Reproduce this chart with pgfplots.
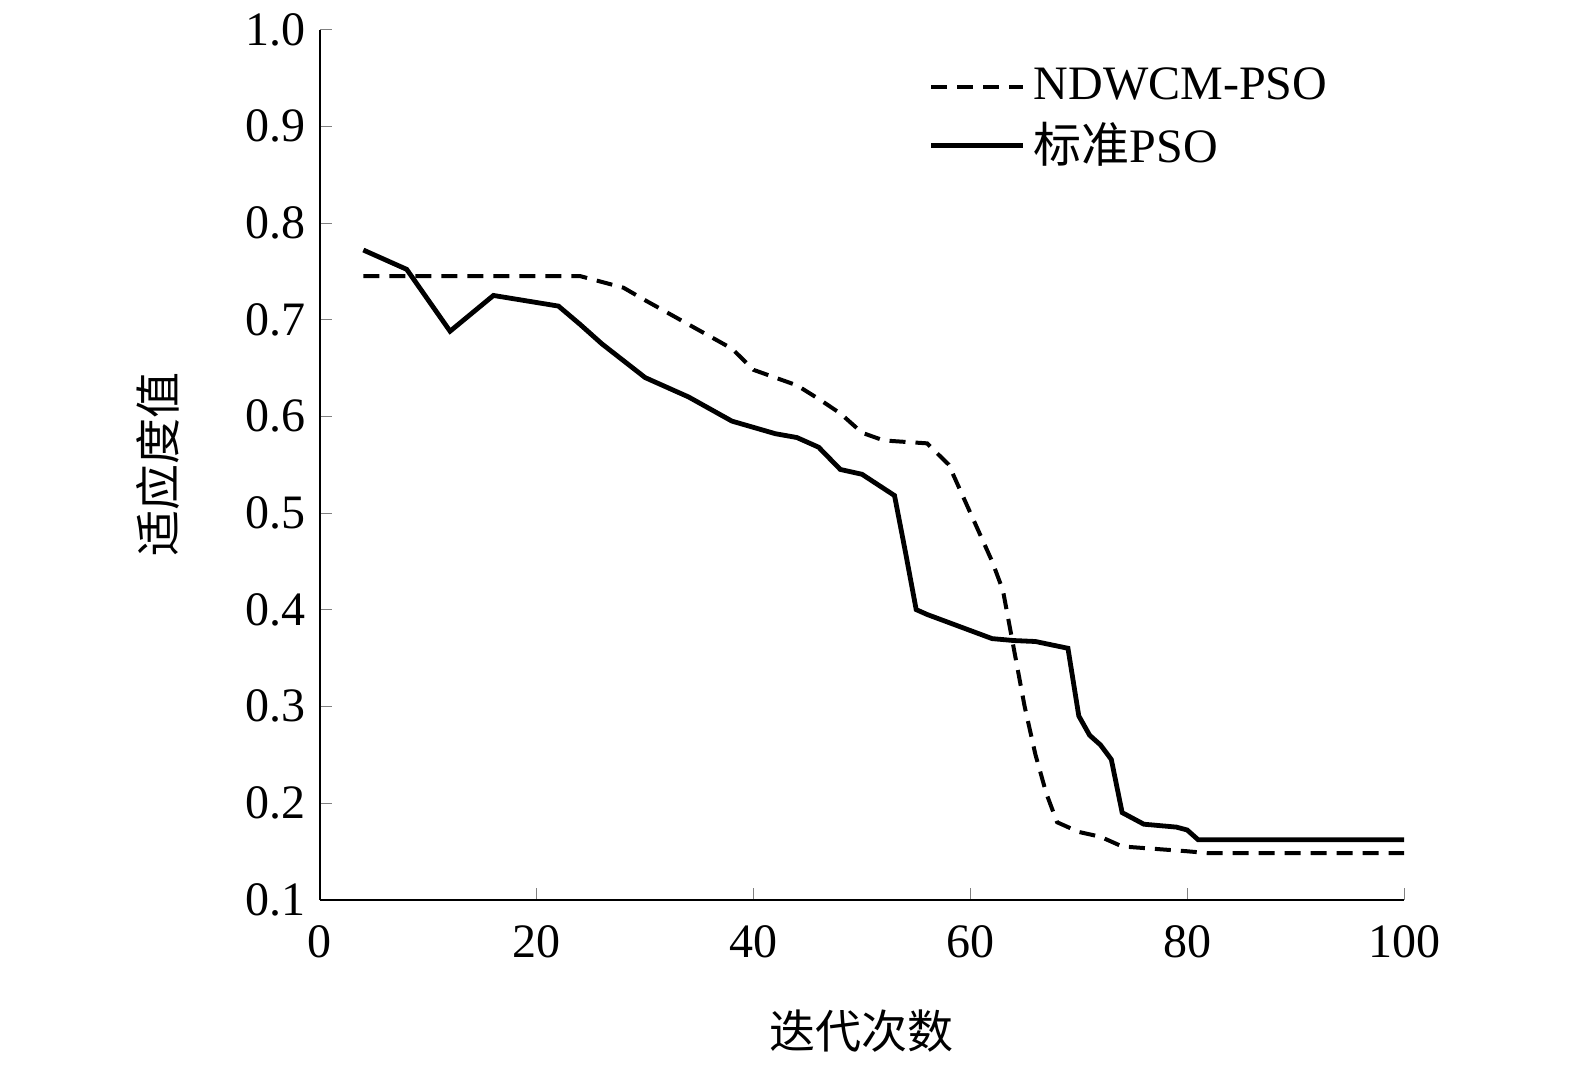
\documentclass[border=0pt]{standalone}
\usepackage{fontspec}
\setmainfont{Liberation Serif}
\newfontfamily\cjk{Noto Sans CJK SC}
\usepackage{pgfplots}
\pgfplotsset{compat=1.18}
\begin{document}
\begin{tikzpicture}
\begin{axis}[
  scale only axis, width=271pt, height=217.5pt,
  xmin=0, xmax=100, ymin=0.1, ymax=1.0,
  axis lines=left, axis line style={-, line width=0.5pt},
  xtick={0,20,...,100}, ytick={0.1,0.2,...,1.0},
  yticklabel style={/pgf/number format/.cd,fixed,fixed zerofill,precision=1},
  /pgf/number format/assume math mode=true,
  tick label style={font=\fontsize{12}{14}\selectfont},
  tick align=inside, major tick length=3pt,
  xticklabel style={yshift=-3pt},
  xlabel={\cjk 迭代次数}, ylabel={\cjk 适应度值},
  label style={font=\fontsize{11.5}{13}\selectfont},
  xlabel style={at={(axis description cs:0.5,-0.151)}, anchor=center},
  ylabel style={at={(axis description cs:-0.149,0.5)}, anchor=center},
  legend style={at={(0.55,0.975)}, anchor=north west, draw=none, fill=none,
    font=\fontsize{12}{14}\selectfont, row sep=0pt},
  legend cell align=left,
  legend image code/.code={\draw[#1] (0pt,0pt) -- (23pt,0pt);},
]
\addplot[black, line width=1pt, dashed, dash pattern=on 4pt off 2.5pt] coordinates {
(4,0.745)(24,0.745)(28,0.733)(30,0.72)(34,0.695)(38,0.67)(40,0.648)(44,0.632)(46,0.618)(48,0.603)(50,0.583)(52,0.575)(56,0.572)(58,0.55)(60,0.5)(62,0.45)(63,0.42)(64,0.36)(65,0.30)(66,0.25)(67,0.21)(68,0.18)(70,0.17)(72,0.165)(74,0.155)(80,0.15)(82,0.148)(100,0.148)};
\addlegendentry{NDWCM-PSO}
\addplot[black, line width=1.2pt] coordinates {
(4,0.772)(8,0.752)(12,0.688)(16,0.725)(22,0.714)(24,0.695)(26,0.675)(30,0.64)(34,0.62)(38,0.595)(42,0.582)(44,0.578)(46,0.568)(48,0.545)(50,0.54)(53,0.518)(54,0.46)(55,0.40)(56,0.395)(62,0.37)(64,0.368)(66,0.367)(69,0.36)(70,0.29)(71,0.27)(72,0.26)(73,0.245)(74,0.19)(76,0.178)(79,0.175)(80,0.172)(81,0.162)(100,0.162)};
\addlegendentry{{\cjk 标准}PSO}
\end{axis}
\path[use as bounding box] (-80pt,-42.75pt) rectangle (313.75pt,223.5pt);
\end{tikzpicture}
\end{document}
